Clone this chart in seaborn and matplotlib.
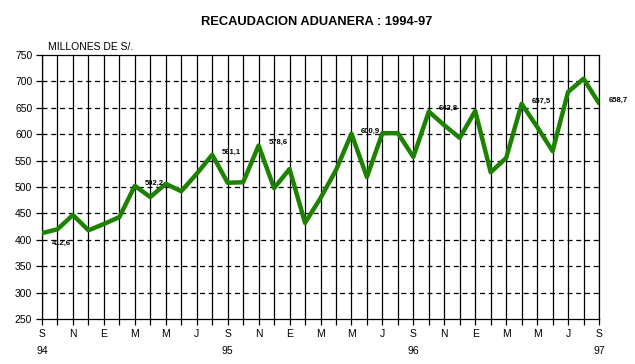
import numpy as np
import pandas as pd
import matplotlib
matplotlib.use("Agg")
import matplotlib.pyplot as plt
import seaborn as sns

# --- datos (millones de S/.), sep-94 a sep-97 ---
meses = ["S", "O", "N", "D", "E", "F", "M", "A", "M", "J", "J", "A"] * 3 + ["S"]
recaudacion = [412.6, 420, 447, 418, 430, 443, 502.2, 481, 506, 492, 525, 561.1,
               508, 509, 578.6, 498, 534, 432, 479, 532, 600.9, 519, 602, 602,
               557, 642.8, 617, 593, 644, 528, 555, 657.5, 614, 568, 680, 705,
               658.7]
anios = {0: "94", 12: "95", 24: "96", 36: "97"}
etiquetados = [0, 6, 11, 14, 20, 25, 31, 36]
y_ticks = [250, 300, 350, 400, 450, 500, 550, 600, 650, 700, 750]

df = pd.DataFrame({"mes": np.arange(len(recaudacion)), "valor": recaudacion})

sns.set_theme(style="white")
plt.rcParams["font.family"] = ["Liberation Sans", "DejaVu Sans"]
plt.rcParams["text.color"] = "black"
plt.rcParams["xtick.color"] = "black"
plt.rcParams["ytick.color"] = "black"

fig = plt.figure(figsize=(6.35, 3.64), dpi=100)
ax = fig.add_axes([42 / 635, 45 / 364, 557 / 635, 264 / 364])

# grilla: verticales sólidas, horizontales punteadas
for i in df["mes"]:
    ax.axvline(i, color="black", lw=0.9, zorder=1)
for v in y_ticks[1:-1]:
    ax.axhline(v, color="black", lw=0.9, ls=(0, (4, 3)), zorder=1)

sns.lineplot(data=df, x="mes", y="valor", ax=ax, color="#1c8200",
             linewidth=3.2, zorder=3)

for i in etiquetados:
    v = recaudacion[i]
    txt = f"{v:.1f}".replace(".", ",")
    dy = -7 if i == 0 else 2
    ax.annotate(txt, (i, v), xytext=(7, dy), textcoords="offset points",
                fontsize=5.5, fontweight="bold", ha="left", va="center",
                color="black", zorder=4)

ax.set_xlim(0, 36)
ax.set_ylim(250, 750)
ax.set_yticks(y_ticks)
ax.set_yticklabels([str(v) for v in y_ticks], fontsize=7.5, color="black")
ax.set_xticks(df["mes"])
etiq_x = []
for i, m in enumerate(meses):
    if i % 2 == 0:
        etiq_x.append(m + ("\n" + anios[i] if i in anios else ""))
    else:
        etiq_x.append("")
ax.set_xticklabels(etiq_x, fontsize=7.5, linespacing=1.85, color="black")
ax.tick_params(axis="both", direction="out", length=4, width=0.9,
               color="black", pad=3, bottom=True, left=True)
ax.set_xlabel("")
ax.set_ylabel("")
for s in ax.spines.values():
    s.set_color("black")
    s.set_linewidth(0.9)

fig.text(48 / 635, 1 - 47 / 364, "MILLONES DE S/.", fontsize=7.5,
         ha="left", va="center", color="black")
fig.text(317 / 635, 1 - 22 / 364, "RECAUDACION ADUANERA : 1994-97",
         fontsize=9.3, fontweight="bold", ha="center", va="center",
         color="black",
         family=["Liberation Sans Narrow", "Liberation Sans", "DejaVu Sans"])

fig.savefig("out.png", dpi=100)
